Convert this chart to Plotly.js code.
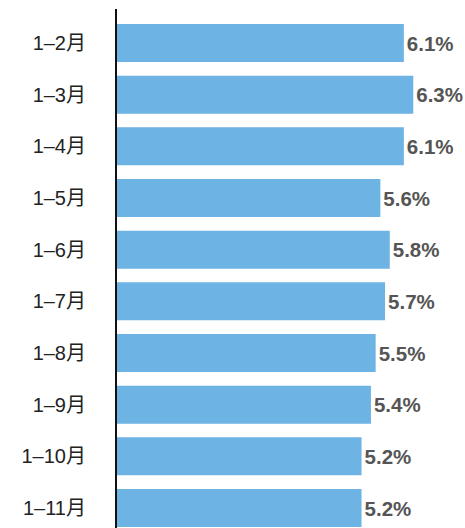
<!DOCTYPE html>
<html>
<head>
<meta charset="utf-8">
<script src="https://cdn.plot.ly/plotly-3.0.1.min.js"></script>
<style>html,body{margin:0;padding:0;background:#fff;}#chart{width:465px;height:528px;}</style>
</head>
<body>
<div id="chart"></div>
<script>
const categories = ["1–2月","1–3月","1–4月","1–5月","1–6月","1–7月","1–8月","1–9月","1–10月","1–11月"];
const values = [6.1, 6.3, 6.1, 5.6, 5.8, 5.7, 5.5, 5.4, 5.2, 5.2];
const valueLabels = ["6.1%","6.3%","6.1%","5.6%","5.8%","5.7%","5.5%","5.4%","5.2%","5.2%"];

const trace = {
  type: 'bar',
  orientation: 'h',
  x: values,
  y: categories,
  text: valueLabels,
  textposition: 'outside',
  cliponaxis: false,
  width: 0.735,
  marker: {color: '#6db3e3'},
  textfont: {family: 'Liberation Sans, Arial, sans-serif', size: 20.5, color: '#555555', weight: 'bold'},
  hoverinfo: 'none'
};

const layout = {
  width: 465, height: 528,
  margin: {l: 117, r: 0, t: 9, b: 0, pad: 0},
  paper_bgcolor: '#ffffff',
  plot_bgcolor: '#ffffff',
  showlegend: false,
  xaxis: {range: [0, 7.4], visible: false, fixedrange: true},
  yaxis: {
    type: 'category',
    range: [9.387, -0.658],
    showline: true, linecolor: '#111111', linewidth: 2,
    showgrid: false, zeroline: false, ticks: '',
    ticklabelstandoff: 25,
    tickfont: {family: 'Liberation Sans, Noto Sans CJK SC, sans-serif', size: 20, color: '#222222'},
    fixedrange: true
  }
};

Plotly.newPlot('chart', [trace], layout, {displayModeBar: false, staticPlot: true});
</script>
</body>
</html>
